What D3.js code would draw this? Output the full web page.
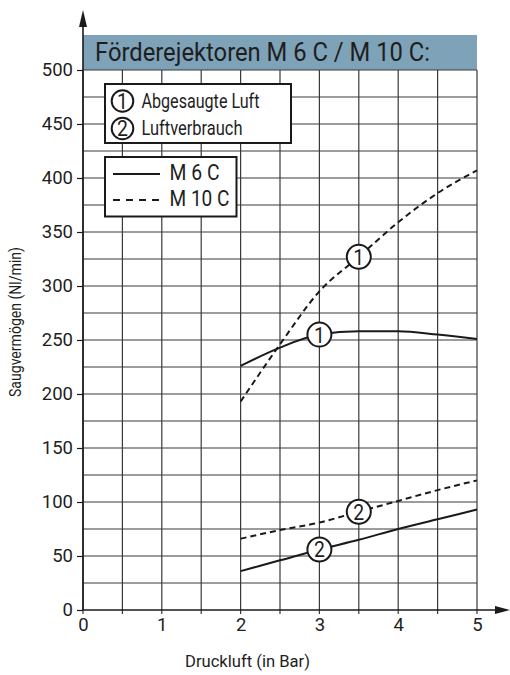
<!DOCTYPE html>
<html>
<head>
<meta charset="utf-8">
<script src="https://cdn.jsdelivr.net/npm/d3@7"></script>
<style>
  html, body { margin: 0; padding: 0; background: #fff; }
  svg { display: block; }
  text { font-family: "Roboto", "Liberation Sans", sans-serif; font-weight: 400; fill: #1e1e1e; }
</style>
</head>
<body>
<svg id="chart" width="510" height="675"></svg>
<script>
// Pressure (bar) at which the curves are sampled
const pressure = [2, 2.5, 3, 3.5, 4, 4.5, 5];

// Suction capacity "Abgesaugte Luft" (Nl/min)
const suctionM6C  = [226, 243, 255, 258, 258, 255, 251];
const suctionM10C = [193, 246, 295, 327, 359, 386, 407];

// Air consumption "Luftverbrauch" (Nl/min)
const consumptionM6C  = [36, 46, 56, 65, 75, 84, 93];
const consumptionM10C = [66, 74, 81, 91, 101, 111, 120];

// Axis ticks
const xTicks = [0, 1, 2, 3, 4, 5];
const yTicks = [0, 50, 100, 150, 200, 250, 300, 350, 400, 450, 500];

// Numbered markers placed on the curves: [number, pressure, series]
const markers = [
  ["1", 3,   suctionM6C],
  ["1", 3.5, suctionM10C],
  ["2", 3.5, consumptionM10C],
  ["2", 3,   consumptionM6C]
];

const svg = d3.select("#chart");
const x = d3.scaleLinear().domain([0, 5]).range([83, 477]);
const y = d3.scaleLinear().domain([0, 500]).range([610, 70]);

// Title banner
svg.append("rect")
  .attr("x", x(0)).attr("y", 35)
  .attr("width", x(5) - x(0)).attr("height", y(500) - 35)
  .attr("fill", "#7ea2b8");
svg.append("text")
  .attr("x", 95).attr("y", 61)
  .attr("font-size", 25)
  .attr("textLength", 335).attr("lengthAdjust", "spacingAndGlyphs")
  .text("Förderejektoren M 6 C / M 10 C:");

// Grid: every 0.5 bar and every 25 Nl/min
const grid = svg.append("g").attr("stroke", "#3a3a3a").attr("stroke-width", 1.2);
d3.range(0, 5.01, 0.5).forEach(v => {
  grid.append("line")
    .attr("x1", x(v)).attr("x2", x(v))
    .attr("y1", y(500)).attr("y2", y(0) + 4);
});
d3.range(25, 501, 25).forEach(v => {
  grid.append("line")
    .attr("x1", x(0)).attr("x2", x(5))
    .attr("y1", y(v)).attr("y2", y(v));
});

// Axes with arrow heads
const axes = svg.append("g").attr("stroke", "#1a1a1a").attr("stroke-width", 1.6);
axes.append("line").attr("x1", x(0)).attr("x2", x(0)).attr("y1", y(0)).attr("y2", 22);
axes.append("line").attr("x1", x(0)).attr("x2", 498).attr("y1", y(0)).attr("y2", y(0));
svg.append("path")
  .attr("d", `M${x(0)},10 L${x(0) - 4},27 L${x(0) + 4},27 Z`)
  .attr("fill", "#1a1a1a");
svg.append("path")
  .attr("d", `M510,${y(0)} L495,${y(0) - 4} L495,${y(0) + 4} Z`)
  .attr("fill", "#1a1a1a");

// Y axis ticks and labels
const yAxis = d3.axisLeft(y).tickValues(yTicks).tickSize(6).tickPadding(4).tickFormat(d3.format("d"));
const gy = svg.append("g").attr("transform", `translate(${x(0)},0)`).call(yAxis);
gy.select(".domain").remove();
gy.selectAll(".tick line").attr("stroke", "#1a1a1a").attr("stroke-width", 1.2);
gy.selectAll(".tick text")
  .attr("font-size", 18.5)
  .attr("fill", null);

// X axis labels
const xAxis = d3.axisBottom(x).tickValues(xTicks).tickSize(0).tickPadding(8).tickFormat(d3.format("d"));
const gx = svg.append("g").attr("transform", `translate(0,${y(0)})`).call(xAxis);
gx.select(".domain").remove();
gx.selectAll(".tick text")
  .attr("font-size", 18.5)
  .attr("fill", null);

// Axis titles
svg.append("text")
  .attr("x", 185).attr("y", 667)
  .attr("font-size", 16)
  .attr("textLength", 125).attr("lengthAdjust", "spacingAndGlyphs")
  .text("Druckluft (in Bar)");
svg.append("text")
  .attr("transform", "translate(21,397) rotate(-90)")
  .attr("font-size", 16)
  .attr("textLength", 150).attr("lengthAdjust", "spacingAndGlyphs")
  .text("Saugvermögen (Nl/min)");

// Curves
const line = d3.line()
  .x((d, i) => x(pressure[i]))
  .y(d => y(d))
  .curve(d3.curveMonotoneX);

const curves = [
  { values: suctionM6C, dash: null },
  { values: suctionM10C, dash: "6,4" },
  { values: consumptionM6C, dash: null },
  { values: consumptionM10C, dash: "6,4" }
];
svg.append("g").selectAll("path")
  .data(curves)
  .join("path")
  .attr("d", d => line(d.values))
  .attr("fill", "none")
  .attr("stroke", "#1a1a1a")
  .attr("stroke-width", 2)
  .attr("stroke-dasharray", d => d.dash);

// Numbered circles on the curves
const mk = svg.append("g").selectAll("g")
  .data(markers)
  .join("g")
  .attr("transform", d => `translate(${x(d[1])},${y(d[2][pressure.indexOf(d[1])])})`);
mk.append("circle").attr("r", 12).attr("fill", "#fff").attr("stroke", "#1a1a1a").attr("stroke-width", 2);
mk.append("text")
  .attr("text-anchor", "middle").attr("dy", "0.36em")
  .attr("font-size", 22).attr("font-weight", 300)
  .attr("transform", "scale(0.88,1)")
  .text(d => d[0]);

// Legend: curve numbers
const leg1 = svg.append("g");
leg1.append("rect")
  .attr("x", 105).attr("y", 84).attr("width", 186).attr("height", 59)
  .attr("fill", "#fff").attr("stroke", "#1a1a1a").attr("stroke-width", 2);
const legendItems = [["1", "Abgesaugte Luft", 118], ["2", "Luftverbrauch", 101]];
legendItems.forEach((it, i) => {
  const cy = 101 + i * 27.5;
  const g = leg1.append("g").attr("transform", `translate(122.5,${cy})`);
  g.append("circle").attr("r", 10.8)
    .attr("fill", "#fff").attr("stroke", "#1a1a1a").attr("stroke-width", 2);
  g.append("text").attr("dy", "0.36em")
    .attr("text-anchor", "middle").attr("font-size", 22).attr("font-weight", 300)
    .attr("transform", "scale(0.88,1)")
    .text(it[0]);
  leg1.append("text").attr("x", 141.5).attr("y", cy + 6.5)
    .attr("font-size", 19.5)
    .attr("textLength", it[2]).attr("lengthAdjust", "spacingAndGlyphs")
    .text(it[1]);
});

// Legend: line styles
const leg2 = svg.append("g");
leg2.append("rect")
  .attr("x", 105).attr("y", 157).attr("width", 131.5).attr("height", 59.5)
  .attr("fill", "#fff").attr("stroke", "#1a1a1a").attr("stroke-width", 2);
const styleItems = [["M 6 C", null, 50, 174, 179.5], ["M 10 C", "7,6", 60, 200, 206.3]];
styleItems.forEach(it => {
  leg2.append("line").attr("x1", 113).attr("x2", 160).attr("y1", it[3]).attr("y2", it[3])
    .attr("stroke", "#1a1a1a").attr("stroke-width", 2).attr("stroke-dasharray", it[1]);
  leg2.append("text").attr("x", 169.5).attr("y", it[4])
    .attr("font-size", 21.5)
    .attr("textLength", it[2]).attr("lengthAdjust", "spacingAndGlyphs")
    .text(it[0]);
});
</script>
</body>
</html>
